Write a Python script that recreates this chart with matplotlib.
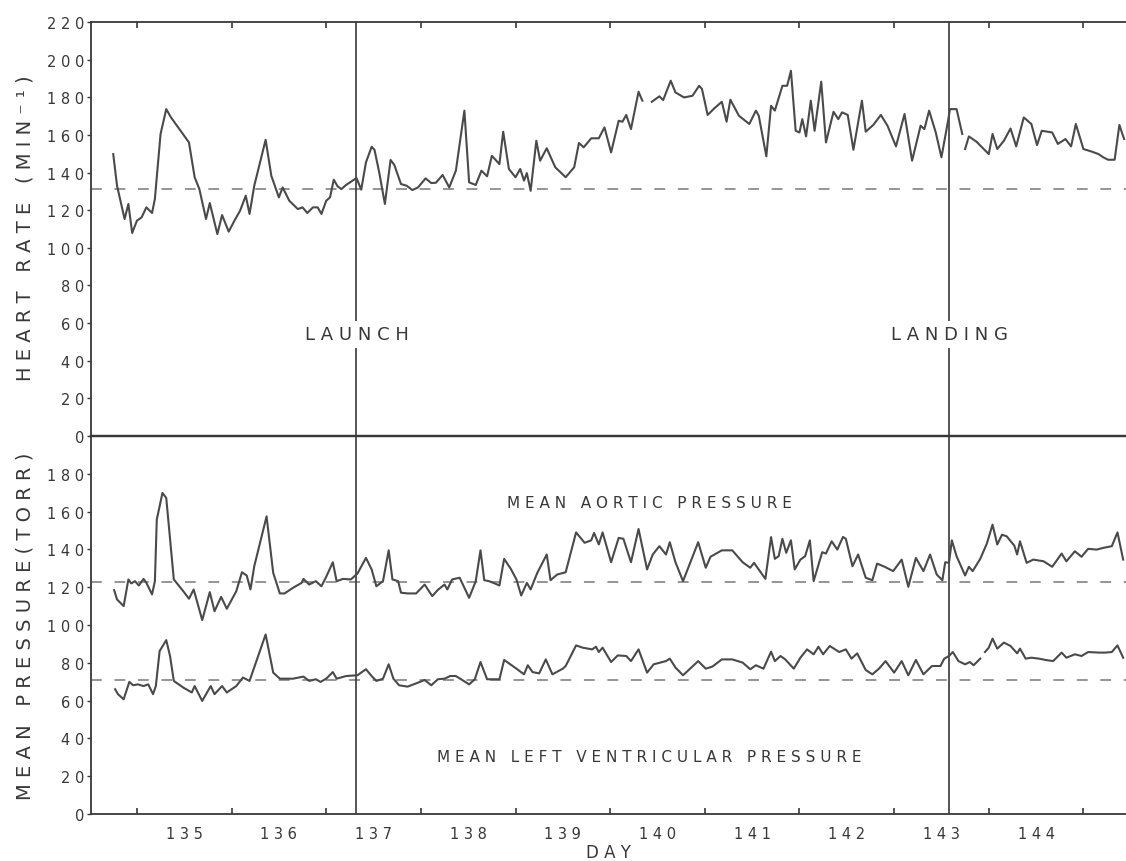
import numpy as np
import matplotlib
matplotlib.use("Agg")
import matplotlib.pyplot as plt

nan = np.nan

# ---------------- data ----------------
hr_day = [134.75, 134.79, 134.87, 134.91, 134.95, 135.00, 135.05, 135.10, 135.16, 135.19,
          135.25, 135.31, 135.36, 135.45, 135.55, 135.61, 135.66, 135.73, 135.77, 135.85,
          135.90, 135.97, 136.03, 136.09, 136.15, 136.19, 136.24, 136.36, 136.42, 136.50,
          136.54, 136.61, 136.70, 136.75, 136.80, 136.86, 136.91, 136.95, 137.00, 137.04,
          137.08, 137.12, 137.16, 137.21, 137.32, 137.37, 137.42, 137.48, 137.51, 137.56,
          137.62, 137.68, 137.72, 137.79, 137.85, 137.91, 137.97, 138.05, 138.11, 138.16,
          138.23, 138.30, 138.37, 138.46, 138.51, 138.58, 138.64, 138.70, 138.75, 138.83,
          138.87, 138.93, 139.00, 139.05, 139.09, 139.12, 139.16, 139.22, 139.26, 139.33,
          139.42, 139.53, 139.62, 139.67, 139.72, 139.80, 139.88, 139.94, 140.01, 140.09,
          140.13, 140.17, 140.22, 140.30, 140.34, 140.39,
          140.44, 140.52, 140.56, 140.64, 140.69, 140.78, 140.87, 140.94, 140.97, 141.03,
          141.10, 141.18, 141.23, 141.27, 141.36, 141.47, 141.54, 141.57, 141.65, 141.70,
          141.74, 141.82, 141.87, 141.91, 141.96, 142.00, 142.03, 142.07, 142.12, 142.16,
          142.23, 142.28, 142.36, 142.41, 142.45, 142.51, 142.57, 142.66, 142.70, 142.78,
          142.86, 142.93, 143.02, 143.11, 143.19, 143.28, 143.32, 143.37, 143.44, 143.50,
          143.57, 143.59, 143.66, 143.72, 143.735,
          143.75, 143.79, 143.87, 144.00, 144.04, 144.09, 144.16, 144.23, 144.29, 144.37,
          144.45, 144.51, 144.56, 144.67, 144.73, 144.81, 144.87, 144.92, 145.00, 145.09,
          145.16, 145.21, 145.26, 145.33, 145.38, 145.43]
hr_val = [149.8, 133.0, 115.3, 123.3, 107.9, 114.4, 116.2, 121.5, 118.5, 126.0,
          160.5, 173.7, 169.3, 163.0, 156.0, 137.5, 131.2, 115.3, 123.8, 107.3,
          117.4, 108.6, 114.4, 119.7, 127.7, 118.0, 133.0, 157.4, 138.3, 126.8,
          132.1, 125.0, 120.6, 121.5, 118.5, 121.5, 121.5, 118.0, 125.0, 126.8,
          136.2, 132.7, 131.2, 133.4, 137.1, 130.9, 145.4, 153.7, 152.1, 140.1,
          123.3, 146.7, 144.0, 133.9, 133.0, 130.7, 132.1, 136.9, 134.4, 134.6,
          138.7, 132.1, 141.0, 172.9, 134.8, 133.4, 141.0, 138.0, 148.9, 144.5,
          161.7, 141.9, 137.5, 141.9, 135.7, 139.7, 130.3, 156.9, 146.3, 152.9,
          142.8, 137.5, 142.8, 155.7, 153.4, 158.2, 158.2, 164.0, 150.7, 167.5,
          167.0, 170.6, 163.1, 182.9, 178.2, nan,
          177.6, 180.5, 178.5, 188.8, 182.6, 179.9, 180.8, 186.1, 184.4, 170.6,
          174.1, 177.6, 167.0, 178.7, 170.2, 165.8, 172.9, 170.2, 148.6, 175.5,
          172.9, 186.1, 186.1, 194.1, 162.2, 161.3, 168.4, 159.2, 178.2, 162.2,
          188.3, 156.0, 172.3, 168.4, 172.0, 170.6, 152.1, 178.2, 161.7, 165.3,
          170.6, 164.9, 153.9, 171.1, 146.3, 164.9, 163.1, 172.9, 161.3, 148.1,
          167.5, 173.7, 173.7, 160.5, nan,
          152.5, 159.2, 156.4, 149.8, 160.5, 152.5, 156.9, 163.4, 153.9, 169.3,
          165.8, 154.6, 162.2, 161.3, 155.2, 157.8, 153.9, 165.8, 152.5, 151.1,
          149.8, 148.1, 146.8, 146.8, 165.3, 157.8]

aortic_day = [134.76, 134.79, 134.86, 134.91, 134.94, 134.98, 135.02, 135.07, 135.10, 135.16,
              135.19, 135.21, 135.27, 135.31, 135.39, 135.49, 135.55, 135.60, 135.69, 135.77,
              135.82, 135.89, 135.95, 136.05, 136.11, 136.16, 136.20, 136.24, 136.37, 136.44,
              136.51, 136.56, 136.65, 136.74, 136.76, 136.82, 136.89, 136.95, 137.00, 137.07,
              137.11, 137.18, 137.26, 137.33, 137.42, 137.48, 137.53, 137.60, 137.66, 137.70,
              137.76, 137.79, 137.86, 137.95, 138.04, 138.12, 138.18, 138.25, 138.28, 138.33,
              138.41, 138.51, 138.58, 138.63, 138.67, 138.72, 138.78, 138.83, 138.88, 138.95,
              139.01, 139.06, 139.12, 139.16, 139.23, 139.33, 139.37, 139.44, 139.53, 139.64,
              139.73, 139.80, 139.83, 139.88, 139.92, 140.01, 140.09, 140.14, 140.22, 140.30,
              140.39, 140.45, 140.52, 140.59, 140.63, 140.69, 140.77, 140.93, 141.01, 141.06,
              141.18, 141.29, 141.40, 141.48, 141.52, 141.64, 141.70, 141.74, 141.78, 141.82,
              141.86, 141.91, 141.95, 142.01, 142.06, 142.11, 142.15, 142.24, 142.28, 142.34,
              142.40, 142.46, 142.49, 142.56, 142.62, 142.70, 142.77, 142.82, 142.90, 142.99,
              143.08, 143.15, 143.23, 143.31, 143.38, 143.45, 143.51, 143.54, 143.58, 143.61,
              143.66, 143.75, 143.79, 143.83, 143.91, 143.98, 144.04, 144.09, 144.14, 144.19,
              144.27, 144.30, 144.33, 144.40, 144.47, 144.58, 144.67, 144.77, 144.82, 144.91,
              144.98, 145.05, 145.14, 145.21, 145.30, 145.36, 145.42]
aortic_val = [118.4, 113.5, 110.0, 124.1, 122.0, 123.2, 120.9, 124.4, 122.3, 116.2,
              123.2, 155.8, 169.9, 167.2, 124.1, 117.9, 113.9, 118.8, 102.6, 117.4,
              107.3, 114.9, 108.6, 117.9, 127.9, 126.2, 118.8, 131.1, 157.5, 127.6,
              116.7, 116.7, 119.7, 122.3, 124.4, 121.4, 123.2, 120.5, 125.5, 133.2,
              123.2, 124.4, 124.1, 127.2, 135.5, 129.4, 120.5, 123.2, 139.5, 124.1,
              123.2, 117.1, 116.7, 116.7, 121.4, 115.3, 118.6, 121.4, 118.8, 124.1,
              125.0, 114.4, 123.2, 139.5, 123.7, 123.2, 122.0, 120.9, 135.0, 129.7,
              124.1, 115.6, 122.3, 118.8, 127.6, 137.3, 123.7, 126.7, 127.9, 149.0,
              143.5, 144.8, 148.7, 142.6, 149.0, 133.2, 146.1, 145.6, 133.2, 150.8,
              129.4, 137.3, 141.7, 137.3, 143.8, 133.2, 123.2, 143.8, 130.3, 136.1,
              139.5, 139.5, 133.2, 130.3, 132.9, 124.4, 146.5, 135.0, 136.4, 145.6,
              138.2, 144.8, 129.4, 134.6, 136.4, 144.8, 123.2, 138.5, 137.8, 144.3,
              139.9, 146.6, 145.6, 131.1, 137.3, 125.0, 123.7, 132.5, 130.8, 128.5,
              134.6, 120.2, 135.5, 128.5, 137.3, 126.7, 123.7, 133.2, 132.9, 144.8,
              136.4, 126.2, 130.8, 128.5, 135.0, 143.1, 153.1, 142.6, 147.8, 146.9,
              142.0, 137.3, 144.3, 132.9, 134.6, 133.7, 130.8, 137.8, 133.7, 139.0,
              136.1, 140.3, 139.9, 140.8, 141.7, 149.0, 134.6]

lv_day = [134.77, 134.80, 134.86, 134.92, 134.96, 135.01, 135.07, 135.12, 135.17, 135.20,
          135.24, 135.31, 135.35, 135.39, 135.49, 135.58, 135.61, 135.69, 135.78, 135.82,
          135.90, 135.95, 136.05, 136.12, 136.19, 136.36, 136.44, 136.51, 136.65, 136.76,
          136.82, 136.89, 136.94, 137.00, 137.07, 137.11, 137.21, 137.33, 137.42, 137.48,
          137.53, 137.60, 137.66, 137.71, 137.77, 137.86, 137.97, 138.04, 138.11, 138.18,
          138.25, 138.31, 138.37, 138.51, 138.57, 138.63, 138.70, 138.83, 138.88, 139.01,
          139.09, 139.13, 139.18, 139.25, 139.32, 139.39, 139.50, 139.53, 139.64, 139.71,
          139.81, 139.85, 139.88, 139.92, 140.01, 140.08, 140.17, 140.22, 140.30, 140.39,
          140.46, 140.59, 140.63, 140.69, 140.77, 140.93, 141.01, 141.08, 141.18, 141.29,
          141.40, 141.48, 141.54, 141.62, 141.70, 141.74, 141.80, 141.85, 141.94, 142.01,
          142.08, 142.15, 142.20, 142.25, 142.32, 142.42, 142.49, 142.55, 142.61, 142.70,
          142.77, 142.84, 142.91, 143.00, 143.08, 143.15, 143.23, 143.31, 143.40, 143.49,
          143.53, 143.58, 143.62, 143.68, 143.75, 143.80, 143.84, 143.91, 143.935,
          143.96, 144.00, 144.04, 144.09, 144.16, 144.23, 144.30, 144.33, 144.39, 144.45,
          144.53, 144.60, 144.68, 144.77, 144.82, 144.91, 144.98, 145.05, 145.16, 145.23,
          145.30, 145.36, 145.42]
lv_val = [66.0, 63.4, 60.7, 69.9, 68.1, 68.6, 67.7, 68.6, 63.4, 67.7,
          86.2, 92.0, 83.6, 70.4, 66.9, 64.3, 67.7, 59.8, 67.7, 63.4,
          67.7, 64.3, 67.7, 72.2, 70.4, 95.0, 74.8, 71.6, 71.6, 72.7,
          70.4, 71.3, 69.9, 71.6, 75.1, 71.6, 73.0, 73.4, 76.6, 73.0,
          70.4, 71.6, 79.2, 71.6, 68.1, 67.4, 69.5, 70.9, 68.1, 71.3,
          71.6, 73.0, 73.0, 68.6, 71.3, 80.4, 71.3, 71.3, 81.5, 76.9,
          73.9, 78.7, 75.1, 74.4, 81.8, 73.9, 76.9, 78.3, 89.2, 88.0,
          87.1, 88.5, 85.7, 88.0, 80.4, 83.9, 83.6, 80.9, 87.1, 74.8,
          79.2, 80.9, 82.2, 77.5, 73.4, 80.9, 76.9, 78.0, 81.8, 81.8,
          80.1, 76.6, 78.7, 76.9, 85.9, 80.9, 83.6, 81.8, 76.9, 82.7,
          87.1, 84.5, 88.5, 84.5, 88.9, 85.7, 87.1, 82.2, 85.0, 76.2,
          73.9, 76.9, 80.9, 74.8, 80.9, 73.4, 81.5, 73.9, 78.3, 78.3,
          82.2, 83.6, 85.7, 80.9, 79.2, 80.4, 78.7, 82.2, nan,
          85.7, 88.0, 92.8, 87.5, 90.7, 88.9, 85.0, 87.5, 82.2, 82.7,
          82.2, 81.5, 80.9, 85.4, 82.7, 84.5, 83.6, 85.7, 85.4, 85.4,
          85.7, 89.2, 82.7]

hr_baseline = 131.0
aortic_baseline = 122.5
lv_baseline = 71.0
launch_day = 137.32
landing_day = 143.58
day_labels = [135, 136, 137, 138, 139, 140, 141, 142, 143, 144]
hr_ticks = list(range(0, 221, 20))
pressure_ticks = list(range(0, 181, 20))

# ---------------- styling ----------------
INK = '#383838'
TRACE = '#4a4a4a'
DASH = '#8c8c8c'
plt.rcParams['font.family'] = ['DejaVu Sans']


def spaced(s):
    return '   '.join(' '.join(w) for w in s.split(' '))


W, H = 1126, 862
fig = plt.figure(figsize=(W / 100, H / 100), dpi=100)
fig.patch.set_facecolor('white')


def rect(l, t, r, b):
    return [l / W, 1 - b / H, (r - l) / W, (b - t) / H]


ax1 = fig.add_axes(rect(91, 23, 1126, 437))
ax2 = fig.add_axes(rect(91, 437, 1126, 815))

xlim = (134.515, 145.45)
for ax in (ax1, ax2):
    ax.set_xlim(*xlim)
    ax.spines['right'].set_visible(False)
    for s in ('left', 'top', 'bottom'):
        ax.spines[s].set_color(INK)
        ax.spines[s].set_linewidth(1.3)
    ax.set_facecolor('none')
ax1.spines['bottom'].set_linewidth(1.6)
ax2.spines['top'].set_linewidth(1.6)

# top panel
ax1.set_ylim(0, 220)
ax1.set_yticks(hr_ticks)
ax1.set_yticklabels([spaced(str(v)) for v in hr_ticks])
ax1.set_xticks(range(135, 146))
ax1.tick_params(axis='x', which='major', direction='in', top=True, bottom=False,
                length=4, width=1.2, color=INK, labelbottom=False)
ax1.tick_params(axis='y', direction='out', length=3, width=1.0, pad=2,
                labelsize=10.5, labelcolor=INK, color=INK)

# bottom panel
ax2.set_ylim(0, 200)
ax2.set_yticks(pressure_ticks)
ax2.set_yticklabels([spaced(str(v)) for v in pressure_ticks])
ax2.set_xticks(range(135, 146))
ax2.set_xticks([d + 0.5 for d in day_labels], minor=True)
ax2.set_xticklabels([''] * 11)
ax2.set_xticklabels([spaced(str(d)) for d in day_labels], minor=True)
ax2.tick_params(axis='x', which='major', direction='in', length=4, width=1.2, color=INK)
ax2.tick_params(axis='x', which='minor', length=0, pad=9, labelsize=10.5, labelcolor=INK)
ax2.tick_params(axis='y', direction='out', length=3, width=1.0, pad=2,
                labelsize=10.5, labelcolor=INK, color=INK)

# baselines
ax1.plot(xlim, [hr_baseline] * 2, ls=(0, (6, 7)), color=DASH, lw=1.3, zorder=1)
ax2.plot(xlim, [aortic_baseline] * 2, ls=(0, (6, 7)), color=DASH, lw=1.3, zorder=1)
ax2.plot(xlim, [lv_baseline] * 2, ls=(0, (6, 7)), color=DASH, lw=1.3, zorder=1)

# traces
ax1.plot(hr_day, hr_val, color=TRACE, lw=1.5, zorder=3)
ax2.plot(aortic_day, aortic_val, color=TRACE, lw=1.5, zorder=3)
ax2.plot(lv_day, lv_val, color=TRACE, lw=1.5, zorder=3)

# event lines
for ax in (ax1, ax2):
    ax.axvline(launch_day, color=INK, lw=1.2, zorder=2)
    ax.axvline(landing_day, color=INK, lw=1.2, zorder=2)

box = dict(facecolor='white', edgecolor='none', pad=3)
ax1.text(launch_day, 54, spaced('LAUNCH'), ha='center', va='center', fontsize=13,
         color=INK, bbox=box, zorder=5)
ax1.text(landing_day, 54, spaced('LANDING'), ha='center', va='center', fontsize=13,
         color=INK, bbox=box, zorder=5)
ax2.text(140.42, 165, spaced('MEAN AORTIC PRESSURE'), ha='center', va='center',
         fontsize=11, color=INK, zorder=5)
ax2.text(140.41, 30.6, spaced('MEAN LEFT VENTRICULAR PRESSURE'), ha='center', va='center',
         fontsize=11, color=INK, zorder=5)

# axis titles
fig.text(25 / W, 1 - 228 / H, spaced('HEART RATE (MIN⁻¹)'), rotation=90, ha='center',
         va='center', fontsize=14, color=INK)
fig.text(25 / W, 1 - 626 / H, spaced('MEAN PRESSURE(TORR)'), rotation=90, ha='center',
         va='center', fontsize=14, color=INK)
fig.text(608 / W, 1 - 853 / H, spaced('DAY'), ha='center', va='center', fontsize=12,
         color=INK)

fig.savefig('out.png', dpi=100, facecolor='white')
